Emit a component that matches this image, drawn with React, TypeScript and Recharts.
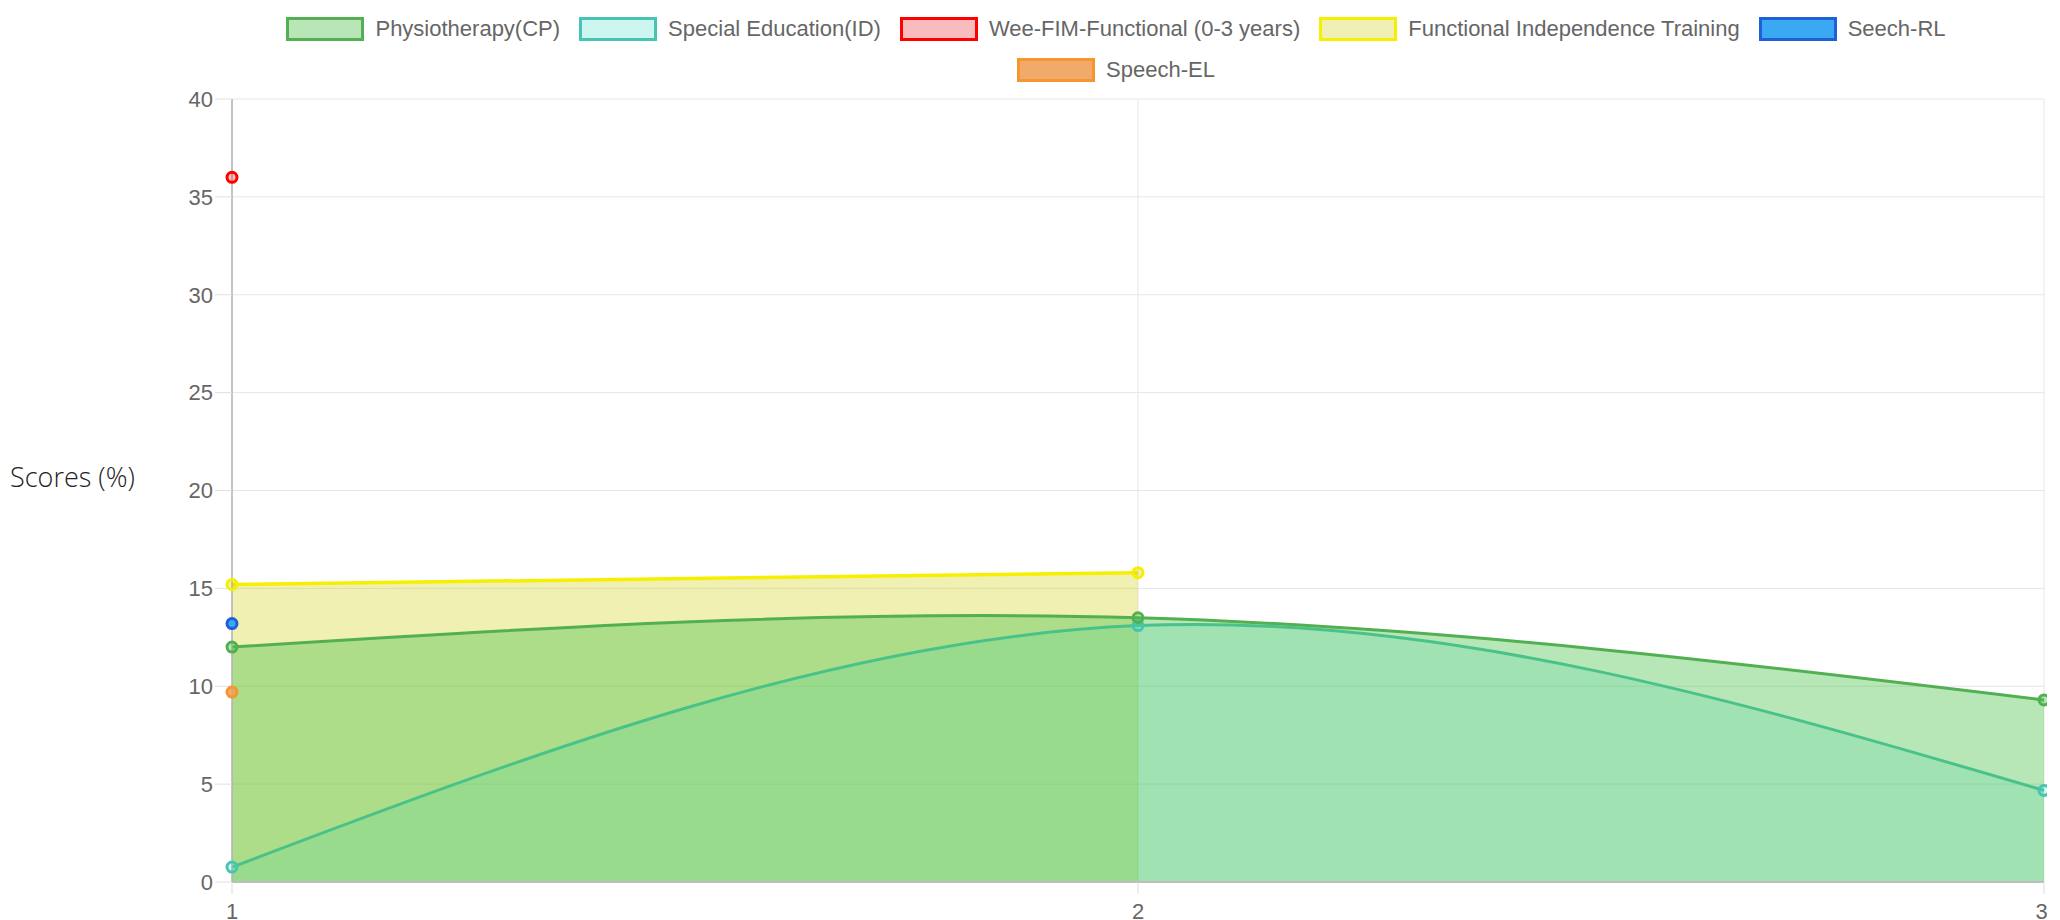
import { ComposedChart, Area, Line, XAxis, YAxis, CartesianGrid, Legend, Label } from 'recharts';

// sessions on the x axis
const sessions = ['1', '2', '3'];

// scores (%) per programme, null where no assessment was recorded
const physiotherapy = [12.0, 13.5, 9.3];
const specialEducation = [0.76, 13.1, 4.68];
const weeFim = [36.0, null, null];
const functionalTraining = [15.2, 15.8, null];
const speechRL = [13.2, null, null];
const speechEL = [9.7, null, null];

const yTicks = [0, 5, 10, 15, 20, 25, 30, 35, 40];

const data = sessions.map((s, i) => ({
  session: s,
  physio: physiotherapy[i],
  special: specialEducation[i],
  weefim: weeFim[i],
  functional: functionalTraining[i],
  speechRL: speechRL[i],
  speechEL: speechEL[i],
}));

const series = [
  { key: 'physio', name: 'Physiotherapy(CP)', stroke: 'rgb(82,176,82)', fill: 'rgba(75,192,75,0.4)', box: '#b9e6b6' },
  { key: 'special', name: 'Special Education(ID)', stroke: 'rgb(72,196,180)', fill: 'rgba(64,224,208,0.2)', box: '#cdf6f0' },
  { key: 'weefim', name: 'Wee-FIM-Functional (0-3 years)', stroke: '#ff0000', fill: 'rgba(255,0,0,0.25)', box: '#f8bcbf' },
  { key: 'functional', name: 'Functional Independence Training', stroke: '#f7ef00', fill: 'rgba(204,204,0,0.3)', box: '#f0f0b4' },
  { key: 'speechRL', name: 'Seech-RL', stroke: '#1f5fd8', fill: '#3aa8f2', box: '#3aa8f2' },
  { key: 'speechEL', name: 'Speech-EL', stroke: '#f7952f', fill: 'rgba(240,160,90,0.85)', box: '#f0aa6c' },
];

const tickFont = { fontFamily: '"Liberation Sans", Arial, sans-serif', fontSize: 22, fill: '#666' };

function LegendBoxes() {
  return (
    <div
      style={{
        marginLeft: 216,
        width: 1800,
        height: 91,
        display: 'flex',
        flexWrap: 'wrap',
        justifyContent: 'center',
        alignContent: 'flex-start',
        columnGap: 19,
        fontFamily: '"Liberation Sans", Arial, sans-serif',
        fontSize: 22,
        color: '#666',
      }}
    >
      {series.map((s) => (
        <div key={s.key} style={{ display: 'flex', alignItems: 'center', height: 41 }}>
          <span
            style={{
              display: 'inline-block',
              width: 78,
              height: 24,
              boxSizing: 'border-box',
              border: `3px solid ${s.stroke}`,
              background: s.box,
              marginRight: 11,
            }}
          />
          <span>{s.name}</span>
        </div>
      ))}
    </div>
  );
}

const byKey = (k: string) => series.find((s) => s.key === k)!;

function dotFor(k: string) {
  const s = byKey(k);
  return { r: 5, strokeWidth: 3, stroke: s.stroke, fill: s.fill };
}

export default function App() {
  const physio = byKey('physio');
  const special = byKey('special');
  const functional = byKey('functional');

  return (
    <div style={{ position: 'absolute', left: 0, top: 0, width: 2060, height: 920, background: '#fff' }}>
      <ComposedChart width={2047} height={920} data={data} margin={{ top: 8, right: 3, bottom: 0, left: 0 }}>
        <CartesianGrid stroke="#e6e6e6" strokeWidth={1} />
        <Legend verticalAlign="top" align="left" content={() => <LegendBoxes />} />
        <XAxis
          dataKey="session"
          height={38}
          tick={tickFont}
          tickSize={12}
          tickMargin={9}
          tickLine={{ stroke: '#dcdcdc' }}
          axisLine={{ stroke: '#bdbdbd', strokeWidth: 2 }}
        />
        <YAxis
          domain={[0, 40]}
          ticks={yTicks}
          width={232}
          tick={tickFont}
          tickSize={17}
          tickMargin={2}
          tickLine={{ stroke: '#e0e0e0' }}
          axisLine={{ stroke: '#b5b5b5', strokeWidth: 1.5 }}
        >
          <Label
            content={() => (
              <text
                x={10}
                y={476}
                dominantBaseline="central"
                style={{ fontFamily: '"Open Sans", "Noto Sans", sans-serif', fontSize: 27, fontWeight: 300, fill: '#222' }}
              >
                Scores (%)
              </text>
            )}
          />
        </YAxis>

        <Line dataKey="speechEL" stroke={byKey('speechEL').stroke} strokeWidth={3} dot={dotFor('speechEL')} isAnimationActive={false} />
        <Line dataKey="speechRL" stroke={byKey('speechRL').stroke} strokeWidth={3} dot={dotFor('speechRL')} isAnimationActive={false} />
        <Area
          type="natural"
          dataKey="functional"
          stroke={functional.stroke}
          strokeWidth={3.5}
          fill={functional.fill}
          fillOpacity={1}
          dot={dotFor('functional')}
          isAnimationActive={false}
        />
        <Line dataKey="weefim" stroke={byKey('weefim').stroke} strokeWidth={3} dot={dotFor('weefim')} isAnimationActive={false} />
        <Area
          type="natural"
          dataKey="special"
          stroke={special.stroke}
          strokeWidth={3}
          fill={special.fill}
          fillOpacity={1}
          dot={dotFor('special')}
          isAnimationActive={false}
        />
        <Area
          type="natural"
          dataKey="physio"
          stroke={physio.stroke}
          strokeWidth={3}
          fill={physio.fill}
          fillOpacity={1}
          dot={dotFor('physio')}
          isAnimationActive={false}
        />
      </ComposedChart>
    </div>
  );
}
